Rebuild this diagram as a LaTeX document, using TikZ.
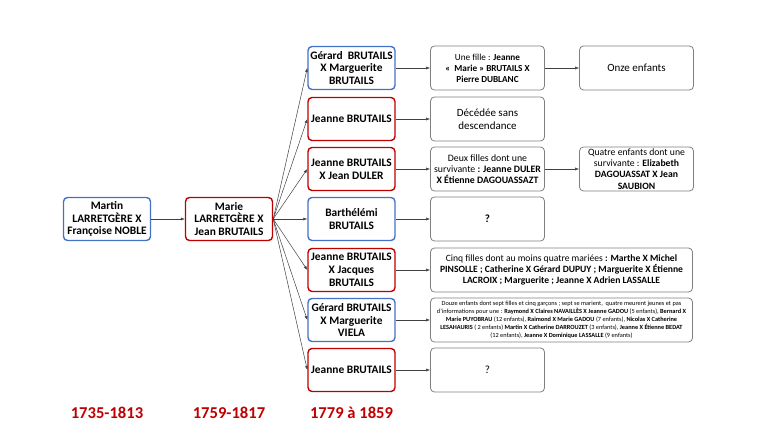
\documentclass[tikz,border=0pt]{standalone}
\usepackage{fontspec}
\setmainfont{Carlito}
\usetikzlibrary{arrows.meta}
\definecolor{cblue}{HTML}{4472C4}
\definecolor{cred}{HTML}{C00000}
\definecolor{cgray}{HTML}{7F7F7F}
\definecolor{cline}{HTML}{404040}
\begin{document}
\begin{tikzpicture}[x=1pt,y=-1pt,
  person/.style={draw, rounded corners=4pt, line width=1.4pt, minimum width=87pt, minimum height=43pt,
    align=center, inner sep=1pt, font=\bfseries\fontsize{11.4}{12.7}\selectfont, fill=white},
  bluebox/.style={person, draw=cblue},
  redbox/.style={person, draw=cred},
  infobox/.style={draw=cgray, rounded corners=4pt, line width=0.8pt, minimum width=114pt, minimum height=44pt,
    align=center, inner sep=1pt},
  widebox/.style={infobox, minimum width=262pt},
  arr/.style={-{Latex[length=4pt,width=3pt]}, line width=0.5pt, draw=cline},
  year/.style={text=cred, font=\bfseries\fontsize{16.6}{18}\selectfont}
]
\useasboundingbox (0,0) rectangle (778,438);

% generation 1 and 2
\node[bluebox] (martin) at (107,219) {Martin\\LARRETGÈRE X\\Françoise NOBLE};
\node[redbox] (marie) at (229,219) {Marie\\LARRETGÈRE X\\Jean BRUTAILS};

% generation 3
\node[bluebox] (c1) at (351.5,68) {Gérard\ \ BRUTAILS\\X Marguerite\\BRUTAILS};
\node[redbox] (c2) at (351.5,119) {Jeanne BRUTAILS};
\node[redbox] (c3) at (351.5,169) {Jeanne BRUTAILS\\X Jean DULER};
\node[bluebox] (c4) at (351.5,219) {Barthélémi\\BRUTAILS};
\node[redbox] (c5) at (351.5,270) {Jeanne BRUTAILS\\X Jacques\\BRUTAILS};
\node[bluebox] (c6) at (351.5,320) {Gérard BRUTAILS\\X Marguerite\\VIELA};
\node[redbox] (c7) at (351.5,370) {Jeanne BRUTAILS};

% generation 4 info
\node[infobox, font=\fontsize{9.2}{11}\selectfont] (d1) at (487.5,68)
  {Une fille : \textbf{Jeanne}\\\textbf{«\ \ Marie » BRUTAILS X}\\\textbf{Pierre DUBLANC}};
\node[infobox, font=\fontsize{11}{12.5}\selectfont] (d2) at (487.5,119) {Décédée sans\\descendance};
\node[infobox, font=\fontsize{9.8}{11}\selectfont] (d3) at (487.5,169)
  {Deux filles dont une\\survivante \textbf{: Jeanne DULER}\\\textbf{X Étienne DAGOUASSAZT}};
\node[infobox, font=\bfseries\fontsize{11}{13}\selectfont] (d4) at (487.5,219) {?};
\node[widebox, font=\fontsize{9.6}{10.8}\selectfont] (d5) at (561.5,270)
  {Cinq filles dont au moins quatre mariées \textbf{: Marthe X Michel}\\
   \textbf{PINSOLLE ; Catherine X Gérard DUPUY ; Marguerite X Étienne}\\
   \textbf{LACROIX ; Marguerite ; Jeanne X Adrien LASSALLE}};
\node[widebox, font=\fontsize{6.3}{7.9}\selectfont] (d6) at (561.5,320)
  {Douze enfants dont sept filles et cinq garçons ; sept se marient, \ quatre meurent jeunes et pas\\
   d'informations pour une : \textbf{Raymond X Claires NAVAILLÈS X Jeanne GADOU} (5 enfants), \textbf{Bernard X}\\
   \textbf{Marie PUYOBRAU} (12 enfants), \textbf{Raimond X Marie GADOU} (7 enfants), \textbf{Nicolas X Catherine}\\
   \textbf{LESAHAURIS} ( 2 enfants) \textbf{Martin X Catherine DARROUZET} (3 enfants), \textbf{Jeanne X Étienne BEDAT}\\
   (12 enfants), \textbf{Jeanne X Dominique LASSALLE} (9 enfants)};
\node[infobox, font=\fontsize{11}{13}\selectfont] (d7) at (487.5,370) {?};

% generation 5 info
\node[infobox, font=\fontsize{11}{13}\selectfont] (e1) at (636.5,68) {Onze enfants};
\node[infobox, font=\fontsize{9.7}{11.2}\selectfont] (e3) at (636.5,169)
  {Quatre enfants dont une\\survivante : \textbf{Elizabeth}\\\textbf{DAGOUASSAT X Jean}\\\textbf{SAUBION}};

% years
\node[year] (y1) at (107,412.5) {1735-1813};
\node[year] (y2) at (229,412.5) {1759-1817};
\node[year] (y3) at (351.5,412.5) {1779 à 1859};

% connectors
\draw[arr] (martin.east) -- (marie.west);
\foreach \c in {c1,c2,c3,c4,c5,c6,c7}
  \draw[arr] (marie.east) -- (\c.west);
\foreach \a/\b in {c1/d1,c2/d2,c3/d3,c4/d4,c5/d5,c6/d6,c7/d7,d1/e1,d3/e3}
  \draw[arr] (\a.east) -- (\b.west);
\end{tikzpicture}
\end{document}
